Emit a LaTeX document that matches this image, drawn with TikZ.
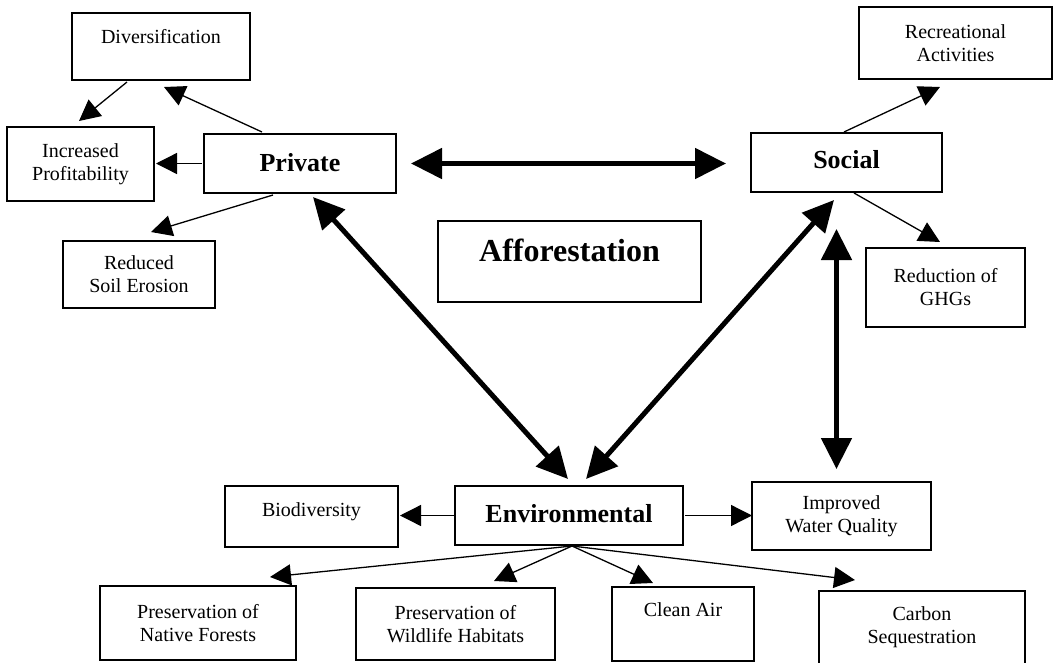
\documentclass[tikz,border=0pt]{standalone}
\usepackage{fontspec}
\setmainfont{Liberation Serif}
\usetikzlibrary{arrows.meta,calc}
\begin{document}
\begin{tikzpicture}[x=1pt,y=-1pt,
  bbox/.style={draw,line width=1.2pt,inner sep=0pt,outer sep=0pt,align=center,
    font=\fontsize{20}{23}\selectfont},
  bigbox/.style={bbox,font=\fontsize{26}{30}\selectfont\bfseries},
  thinarrow/.style={line width=1.3pt,-{Triangle[length=21pt,width=21pt]}},
  thickarrow/.style={line width=5pt,{Triangle[length=31pt,width=30pt]}-{Triangle[length=31pt,width=30pt]}}]
\useasboundingbox (0,0) rectangle (1053,662);
% boxes
\node[bbox,minimum width=178pt,minimum height=67pt,text height=14pt,text depth=21pt] (div) at (161,46.5) {Diversification};
\node[bbox,minimum width=147pt,minimum height=74pt] (inc) at (80.5,164) {Increased\\Profitability};
\node[bigbox,minimum width=192pt,minimum height=59pt,text height=18pt,text depth=3pt] (priv) at (300,163.5) {Private};
\node[bbox,minimum width=152pt,minimum height=67pt] (red) at (139,274.5) {Reduced\\Soil Erosion};
\node[bbox,minimum width=263pt,minimum height=81pt,text height=22pt,text depth=23pt,font=\fontsize{32}{36}\selectfont\bfseries] (aff) at (569.5,261.5) {Afforestation};
\node[bigbox,minimum width=191pt,minimum height=59pt,text height=18pt,text depth=7pt] (soc) at (846.5,162.5) {Social};
\node[bbox,minimum width=193pt,minimum height=72pt] (rec) at (955.5,43) {Recreational\\Activities};
\node[bbox,minimum width=159pt,minimum height=79pt] (ghg) at (945.5,287.5) {Reduction of\\GHGs};
\node[bigbox,minimum width=228pt,minimum height=59pt,text height=18pt,text depth=5pt] (env) at (569,515.5) {Environmental};
\node[bbox,minimum width=173pt,minimum height=61pt,text height=15pt,text depth=16pt] (bio) at (311.5,516.5) {Biodiversity};
\node[bbox,minimum width=179pt,minimum height=68pt] (imp) at (841.5,516) {Improved\\Water Quality};
\node[bbox,minimum width=196pt,minimum height=74pt] (nat) at (198,623) {Preservation of\\Native Forests};
\node[bbox,minimum width=199pt,minimum height=72pt] (wild) at (455.5,624) {Preservation of\\Wildlife Habitats};
\node[bbox,minimum width=142pt,minimum height=74pt,text height=14pt,text depth=30pt] (clean) at (683,624) {Clean Air};
\node[bbox,minimum width=206pt,minimum height=73pt] (carb) at (922,627.5) {Carbon\\Sequestration};
% thin arrows
\draw[thinarrow] ([shift={(55,2)}]div.south west) -- ([shift={(72,-6)}]inc.north west);
\draw[thinarrow] ([shift={(58,-2)}]priv.north west) -- ([shift={(92,7)}]div.south west);
\draw[thinarrow] ([shift={(-2,0)}]priv.west) -- ([shift={(2,0)}]priv.west -| inc.east);
\draw[thinarrow] ([shift={(69,2)}]priv.south west) -- ([shift={(88,-9)}]red.north west);
\draw[thinarrow] ([shift={(93,-1)}]soc.north west) -- ([shift={(81,8)}]rec.south west);
\draw[thinarrow] ([shift={(103,1)}]soc.south west) -- ([shift={(74,-6)}]ghg.north west);
\draw[thinarrow] ([shift={(-1,0)}]env.west) -- ([shift={(2,0)}]env.west -| bio.east);
\draw[thinarrow] ([shift={(2,0)}]env.east) -- (env.east -| imp.west);
\coordinate (es) at ([shift={(3,1)}]env.south);
\draw[thinarrow] (es) -- ([shift={(-26,-9)}]nat.north east);
\draw[thinarrow] (es) -- ([shift={(138,-7)}]wild.north west);
\draw[thinarrow] (es) -- ([shift={(41,-4)}]clean.north west);
\draw[thinarrow] (es) -- ([shift={(36,-11)}]carb.north west);
% thick double arrows
\draw[thickarrow] ([shift={(15,0)}]priv.east) -- ([shift={(-25,0)}]priv.east -| soc.west);
\draw[thickarrow] ([shift={(13,4)}]priv.south) -- ([shift={(-1,-7)}]env.north);
\draw[thickarrow] ([shift={(-12.5,8)}]soc.south) -- ([shift={(17,-7)}]env.north);
\coordinate (wb) at ([shift={(-5,-13)}]imp.north);
\coordinate (wt) at ([shift={(-10.5,37)}]soc.south);
\draw[thickarrow] (wb |- wt) -- (wb);
\end{tikzpicture}
\end{document}
